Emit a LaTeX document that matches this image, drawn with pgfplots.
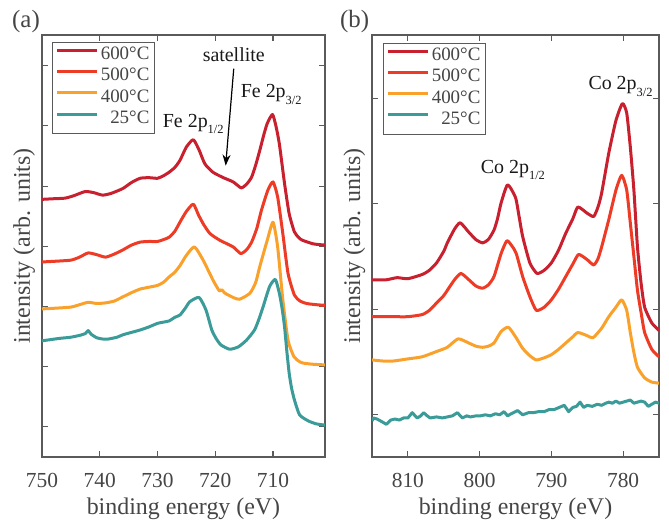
\documentclass[border=0pt]{standalone}
\usepackage{pgfplots}
\pgfplotsset{compat=1.18}
\usepackage{fontspec}
\setmainfont{Liberation Serif}
\usetikzlibrary{arrows.meta}

\definecolor{cSix}{HTML}{C8202E}
\definecolor{cFive}{HTML}{EE3B26}
\definecolor{cFour}{HTML}{F9A12B}
\definecolor{cRoom}{HTML}{3A9B98}
\definecolor{axgray}{HTML}{5A5A5A}
\definecolor{txtgray}{HTML}{454545}

% Fe 2p spectra
\pgfplotstableread{
E v
750 3.78
748 3.79
746 3.80
744.5 3.84
742.5 3.91
741 3.89
739.5 3.85
738 3.88
736 3.96
734.5 4.06
733 4.13
731.5 4.14
730 4.13
729 4.17
728 4.23
727 4.31
726.1 4.43
725 4.65
723.8 4.77
722.8 4.60
721.8 4.37
720.4 4.23
718.6 4.14
716.9 4.07
715.5 3.97
714.5 4.04
713.7 4.15
713 4.35
712.3 4.59
711.6 4.85
711.0 5.04
710.1 5.19
709.5 5.00
708.9 4.70
708.0 4.04
707.2 3.54
706.3 3.24
705.5 3.14
704.9 3.10
703 3.04
701 3.02
}\feSix
\pgfplotstableread{
E v
750 2.74
748 2.75
745 2.77
743.5 2.82
742 2.89
740.5 2.86
739 2.82
737.5 2.87
736 2.94
734.5 3.02
733 3.07
731.5 3.08
730 3.08
729 3.11
728 3.15
727 3.25
726 3.42
725 3.58
723.8 3.70
722.9 3.52
722 3.36
720.9 3.21
719.2 3.10
716.9 2.99
715.6 2.88
714.6 2.94
713.7 3.07
712.8 3.30
712.0 3.60
710.9 3.93
710.0 4.07
709.2 3.82
708.3 3.21
707.4 2.55
706.3 2.19
705.3 2.09
704.2 2.05
702.5 2.03
701 2.02
}\feFive
\pgfplotstableread{
E v
750 1.96
748 1.97
745 1.99
743.5 2.03
742 2.07
740.5 2.05
739 2.06
737.5 2.09
736 2.16
734.5 2.23
733 2.29
731.5 2.32
730 2.35
729 2.40
728 2.49
727 2.57
726.1 2.68
725 2.85
723.6 2.99
722.1 2.77
720.4 2.44
719.3 2.26
718.9 2.28
718.3 2.22
716.9 2.15
715.8 2.12
714.0 2.22
713 2.40
712.3 2.66
711.0 3.10
710.0 3.40
709.2 2.99
708.3 2.11
707.4 1.44
706.4 1.17
705.5 1.09
704.8 1.06
703 1.04
701 1.03
}\feFour
\pgfplotstableread{
E v
750 1.43
748.5 1.45
747 1.47
745 1.49
743.5 1.52
742.5 1.55
742 1.60
741.5 1.54
740.5 1.48
739.5 1.46
738.5 1.46
737 1.49
736 1.53
734.5 1.57
733 1.61
731.5 1.66
730 1.72
729 1.74
728 1.76
727 1.82
726.1 1.86
725.2 1.97
724.4 2.08
722.8 2.15
721.6 1.94
720.6 1.61
719.8 1.46
719.0 1.36
717.5 1.29
716.0 1.33
714.6 1.44
713.2 1.61
712.4 1.80
711.7 2.00
710.6 2.33
709.6 2.45
708.9 2.22
708.4 1.95
708.0 1.66
707.6 1.25
707.2 0.89
706.8 0.65
706.3 0.45
705.4 0.20
703.9 0.10
702.5 0.05
701 0.03
}\feRoom

% Co 2p spectra
\pgfplotstableread{
E v
815 1.28
813 1.28
811.5 1.30
810 1.29
808 1.33
807 1.37
806 1.44
805 1.55
804.5 1.63
803.5 1.76
802.7 1.82
801.5 1.73
800.5 1.66
799.6 1.63
798.8 1.66
798 1.75
797.5 1.86
797 2.01
796.1 2.18
795 2.06
794.5 1.88
794 1.69
793 1.44
792 1.34
791 1.37
790 1.44
789 1.56
788 1.72
787 1.86
786.3 1.97
785 1.91
784.1 1.88
783.5 1.97
783 2.10
782 2.48
781 2.79
780.1 2.95
779.5 2.86
779 2.54
778.5 2.13
778 1.59
777.5 1.25
777 1.02
776 0.87
775 0.80
}\coSix
\pgfplotstableread{
E v
815 0.93
812 0.93
810 0.93
808 0.95
807 0.99
806 1.06
805 1.13
804.5 1.18
803.5 1.28
802.6 1.34
801.5 1.28
800.5 1.22
799.6 1.20
798.8 1.23
798 1.31
797 1.53
796.2 1.65
795.5 1.60
794.9 1.53
794 1.31
793 1.12
792.1 0.99
791 1.02
790 1.09
789 1.19
788 1.31
787 1.43
786.2 1.52
785 1.47
784.1 1.42
783.5 1.48
783 1.59
782 1.85
781 2.13
780.2 2.27
779.5 2.13
779 1.82
778.5 1.50
778 1.18
777.5 0.97
777 0.78
776 0.62
775 0.55
}\coFive
\pgfplotstableread{
E v
815 0.52
813.5 0.51
812 0.51
810 0.53
808 0.55
806 0.60
804.5 0.64
803 0.72
801.5 0.68
800.5 0.65
799.6 0.64
798.8 0.65
798 0.68
797 0.79
796 0.83
795 0.74
794 0.63
793 0.56
792.1 0.52
791 0.54
790 0.57
789 0.62
788 0.68
787 0.74
786.3 0.78
785 0.75
784.2 0.73
783 0.82
782 0.93
781 1.02
780.2 1.09
779.5 0.99
779 0.78
778.5 0.59
778 0.45
777 0.35
776 0.31
775 0.30
}\coFour
\pgfplotstableread{
E v
815 -0.06
814.8 -0.03
814.3 -0.04
813.5 -0.07
813.0 -0.09
812.4 -0.05
811.8 -0.04
811.2 -0.05
810.6 -0.03
810.0 -0.03
809.4 0.02
808.7 -0.03
808.2 -0.01
807.8 0.02
807.3 -0.01
806.9 -0.03
806.0 -0.02
805.2 -0.03
804.5 -0.02
803.8 -0.01
803.1 0.02
802.4 -0.03
801.8 -0.01
801.3 -0.02
800.5 -0.01
799.9 -0.01
799.2 0.00
798.5 -0.01
797.8 0.01
797.2 0.00
796.6 0.03
796.1 -0.01
795.6 0.01
794.7 0.04
794.0 0.00
793.2 0.02
792.5 0.02
791.8 0.03
791.0 0.03
790.3 0.05
789.6 0.05
788.9 0.07
788.2 0.09
787.6 0.03
787.0 0.07
786.5 0.08
786.0 0.12
785.5 0.07
785.0 0.09
784.3 0.08
783.6 0.10
783.0 0.09
782.4 0.11
782.0 0.12
781.5 0.11
781.0 0.13
780.5 0.11
780.0 0.12
779.5 0.13
779.0 0.14
778.5 0.11
778.0 0.12
777.5 0.13
777.0 0.12
776.5 0.08
776.0 0.10
775.5 0.12
775.0 0.11
}\coRoom

\tikzset{
  ann/.style={font=\fontsize{20}{22}\selectfont, text=black!90, anchor=base west, inner sep=0pt},
}
\pgfplotsset{
  xps/.style={
    scale only axis,
    height=422bp,
    anchor=south west,
    x dir=reverse,
    axis line style={draw=axgray, line width=1.1bp},
    tick style={draw=axgray, line width=1.1bp},
    major tick length=6bp,
    tick align=inside,
    yticklabel=\empty,
    /pgf/number format/assume math mode=true,
    /pgf/number format/1000 sep={},
    xticklabel style={font=\fontsize{21.5}{24}\selectfont, text=txtgray, anchor=base, yshift=-30bp},
    every axis x label/.style={at={(axis description cs:0.5,-0.1374)}, anchor=base},
    xlabel style={font=\fontsize{24}{28}\selectfont, text=txtgray},
    ylabel style={font=\fontsize{24}{28}\selectfont, text=txtgray, anchor=base},
    xlabel={binding energy (eV)},
    ylabel={intensity (arb. units)},
    legend cell align=right,
    legend image code/.code={\draw[##1] (0bp,6bp) -- (40bp,6bp);},
    legend style={anchor=north west, draw=axgray, line width=0.8bp, fill=white,
      font=\fontsize{19}{21}\selectfont, text=txtgray,
      inner xsep=3bp, inner ysep=3bp, row sep=0bp,
      nodes={inner ysep=0bp, inner xsep=2.5bp, text height=14bp, text depth=7.3bp}},
    every axis plot/.append style={line width=3bp, line join=round, smooth, tension=0.35},
  },
}
\newcommand{\sub}[1]{\raisebox{-6.5bp}{\fontsize{12.5}{13}\selectfont #1}}

\begin{document}
\begin{tikzpicture}
\useasboundingbox (0,0) rectangle (669bp,525bp);

\begin{axis}[xps, at={(42bp,68bp)}, width=283bp,
  xmin=701, xmax=750, ymin=-0.5, ymax=6.51,
  xtick={710,720,730,740,750}, ytick={0,1,2,3,4,5,6},
  ylabel style={at={(axis description cs:-0.0424,0.5)}},
  legend style={at={(0.035,0.983)}}]
\addplot[cSix] table[x=E,y=v] {\feSix};
\addlegendentry{600°C}
\addplot[cFive] table[x=E,y=v] {\feFive};
\addlegendentry{500°C}
\addplot[cFour] table[x=E,y=v] {\feFour};
\addlegendentry{400°C}
\addplot[cRoom] table[x=E,y=v] {\feRoom};
\addlegendentry{25°C}
\node[ann, anchor=base] at (axis cs:716.8,6.07) {satellite};
\draw[black, line width=1.2bp, -{Stealth[length=11bp,width=8bp]}] (axis cs:716.8,5.95) -- (axis cs:718.2,4.34);
\node[ann] at (axis cs:715.6,5.47) {Fe 2p\sub{3/2}};
\node[ann] at (axis cs:729.1,4.98) {Fe 2p\sub{1/2}};
\end{axis}

\begin{axis}[xps, at={(372bp,68bp)}, width=287bp,
  xmin=775, xmax=815, ymin=-0.4, ymax=3.6,
  xtick={780,790,800,810}, ytick={0,1,2,3},
  ylabel style={at={(axis description cs:-0.0418,0.5)}},
  legend style={at={(0.038,0.981)}}]
\addplot[cSix] table[x=E,y=v] {\coSix};
\addlegendentry{600°C}
\addplot[cFive] table[x=E,y=v] {\coFive};
\addlegendentry{500°C}
\addplot[cFour] table[x=E,y=v] {\coFour};
\addlegendentry{400°C}
\addplot[cRoom, sharp plot] table[x=E,y=v] {\coRoom};
\addlegendentry{25°C}
\node[ann] at (axis cs:784.85,3.08) {Co 2p\sub{3/2}};
\node[ann] at (axis cs:799.85,2.29) {Co 2p\sub{1/2}};
\end{axis}

\node[anchor=base west, inner sep=0pt, font=\fontsize{25}{28}\selectfont, text=txtgray] at (12bp,497bp) {(a)};
\node[anchor=base west, inner sep=0pt, font=\fontsize{25}{28}\selectfont, text=txtgray] at (340bp,497bp) {(b)};
\end{tikzpicture}
\end{document}
